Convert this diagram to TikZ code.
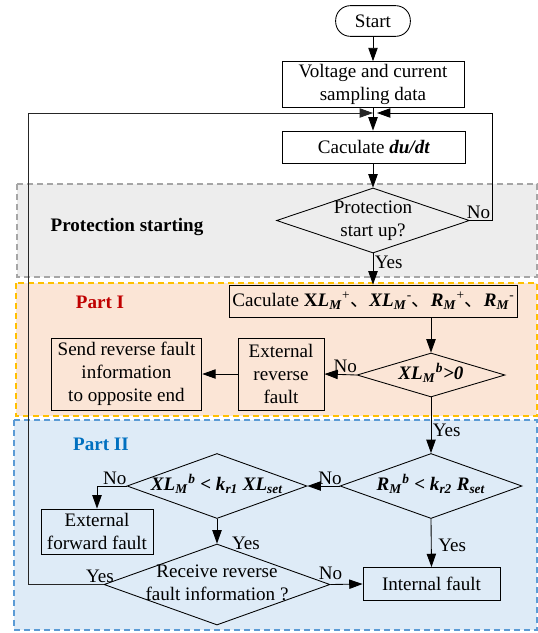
\documentclass[tikz,border=0pt]{standalone}
\usepackage{fontspec}
\setmainfont{Liberation Serif}
\newfontfamily\cjk{Noto Sans CJK SC}
\usetikzlibrary{arrows.meta,shapes.geometric}
\definecolor{zgray}{HTML}{A6A6A6}
\definecolor{zgrayf}{HTML}{EDEDED}
\definecolor{zorange}{HTML}{FFC000}
\definecolor{zorangef}{HTML}{FBE5D6}
\definecolor{zblue}{HTML}{5B9BD5}
\definecolor{zbluef}{HTML}{DEEBF7}
\definecolor{partred}{HTML}{C00000}
\definecolor{partblue}{HTML}{0070C0}
\newcommand{\bitx}[1]{\textbf{\textit{#1}}}
\newcommand{\dtext}[1]{\smash{\makebox[0pt]{\raisebox{-0.25em}{\begin{tabular}{@{}c@{}}#1\end{tabular}}}}}
\tikzset{
  box/.style={draw,rectangle,inner sep=2pt,align=center},
  term/.style={box,rounded corners=11pt},
  dia/.style={draw,diamond,inner sep=0pt},
  arr/.style={-{Triangle[length=10pt,width=7pt]}},
  lbl/.style={inner sep=1pt},
  zone/.style={dash pattern=on 4.5pt off 3pt,line width=0.9pt},
}
\begin{document}
\begin{tikzpicture}[x=0.75pt,y=-0.75pt,line width=0.65pt,
  font=\fontsize{14.3pt}{17.3pt}\selectfont]
\useasboundingbox (0,0) rectangle (538,633);
% zones
\draw[zone,draw=zgray,fill=zgrayf] (17,184) rectangle (537,277);
\draw[zone,draw=zorange,fill=zorangef] (16,283) rectangle (537,416);
\draw[zone,draw=zblue,fill=zbluef] (14,420) rectangle (537,630);
\node[] (tprot) at (127,227) {\textbf{Protection starting}};
\node[text=partred] (tpart1) at (100,302) {\textbf{Part I}};
\node[text=partblue] (tpart2) at (101,444) {\textbf{Part II}};
% blocks
\node[term,minimum width=56pt,minimum height=23pt] (start) at (373,21) {Start};
\node[box,minimum width=136.5pt,minimum height=33.75pt] (volt) at (373,84.5) {Voltage and current\\sampling data};
\node[box,minimum width=137pt,minimum height=24pt] (dudt) at (374,147) {Caculate \bitx{du/dt}};
\node[dia,minimum width=144.75pt,minimum height=48.75pt] (prot) at (373,220.5) {\dtext{Protection\\start up?}};
\node[box,minimum width=215pt,minimum height=24pt] (calc) at (373.5,301) {Caculate \textbf{X}\bitx{L}\textsubscript{\bitx{M}}\textsuperscript{+}{\cjk 、}\bitx{XL}\textsubscript{\bitx{M}}\textsuperscript{-}{\cjk 、}\bitx{R}\textsubscript{\bitx{M}}\textsuperscript{+}{\cjk 、}\bitx{R}\textsubscript{\bitx{M}}\textsuperscript{-}};
\node[dia,minimum width=111pt,minimum height=33pt] (xl0) at (431,375) {\dtext{\bitx{XL}\textsubscript{\bitx{M}}\textsuperscript{\bitx{b}}\bitx{>0}}};
\node[box,minimum width=64.5pt,minimum height=54pt] (extrev) at (281,374) {External\\reverse\\fault};
\node[box,minimum width=113pt,minimum height=54pt] (send) at (126.5,374) {Send reverse fault\\information\\to opposite end};
\node[dia,minimum width=136.5pt,minimum height=48.75pt] (rdia) at (431,486) {\dtext{\bitx{R}\textsubscript{\bitx{M}}\textsuperscript{\bitx{b}} \bitx{<} \bitx{k}\textsubscript{\bitx{r2}} \bitx{R}\textsubscript{\bitx{set}}}};
\node[dia,minimum width=135pt,minimum height=48.75pt] (xldia) at (217,486) {\dtext{\bitx{XL}\textsubscript{\bitx{M}}\textsuperscript{\bitx{b}} \bitx{<} \bitx{k}\textsubscript{\bitx{r1}} \bitx{XL}\textsubscript{\bitx{set}}}};
\node[box,minimum width=84pt,minimum height=33.75pt] (efwd) at (97,531.5) {External\\forward fault};
\node[dia,minimum width=169.5pt,minimum height=60.75pt] (recv) at (217,584.5) {\dtext{Receive reverse\\fault information ?}};
\node[box,minimum width=102.75pt,minimum height=24.75pt] (intf) at (431.5,584) {Internal fault};
\coordinate (mrg) at (373,113);
% connectors
\draw[arr] (start) -- (volt);
\draw[arr] (volt) -- (dudt.north -| volt);
\draw[arr] (dudt.south -| prot) -- (prot.north);
\draw[arr] (prot.east) -- ++(22,0) node[lbl,anchor=south east] (lno1) {No} |- ([xshift=3pt]mrg);
\draw[arr] (prot.south) -- node[lbl,pos=0.3,right] (lyes1) {Yes} (calc.north -| prot);
\draw[arr] (calc.south -| xl0) -- (xl0.north);
\draw[arr] (xl0.west) -- node[lbl,above,pos=0.35] (lno2) {No} (extrev.east);
\draw[arr] (extrev.west) -- (send.east);
\draw[arr] (xl0.south) -- node[lbl,pos=0.6,right] (lyes2) {Yes} (rdia.north);
\draw[arr] (rdia.west) -- node[lbl,pos=0.3,above] (lno3) {No} (xldia.east);
\draw[arr] (xldia.west) -| node[lbl,pos=0.2,above] (lno4) {No} (efwd.north);
\draw[arr] (xldia.south) -- node[lbl,pos=1,anchor=west,xshift=10pt] (lyes3) {Yes} (recv.north);
\draw[arr] (recv.east) -- node[lbl,pos=0,anchor=south,yshift=2pt] (lno5) {No} (intf.west);
\draw[arr] (rdia.south) -- node[lbl,pos=0.55,right,xshift=4pt] (lyes4) {Yes} (intf.north);
\draw[arr,line width=0.6pt,black!85] (recv.west) -- node[lbl,pos=0,anchor=south east,xshift=9pt,text=black] (lyes5) {Yes} ++(-75,0) |- (mrg);
\end{tikzpicture}
\end{document}
